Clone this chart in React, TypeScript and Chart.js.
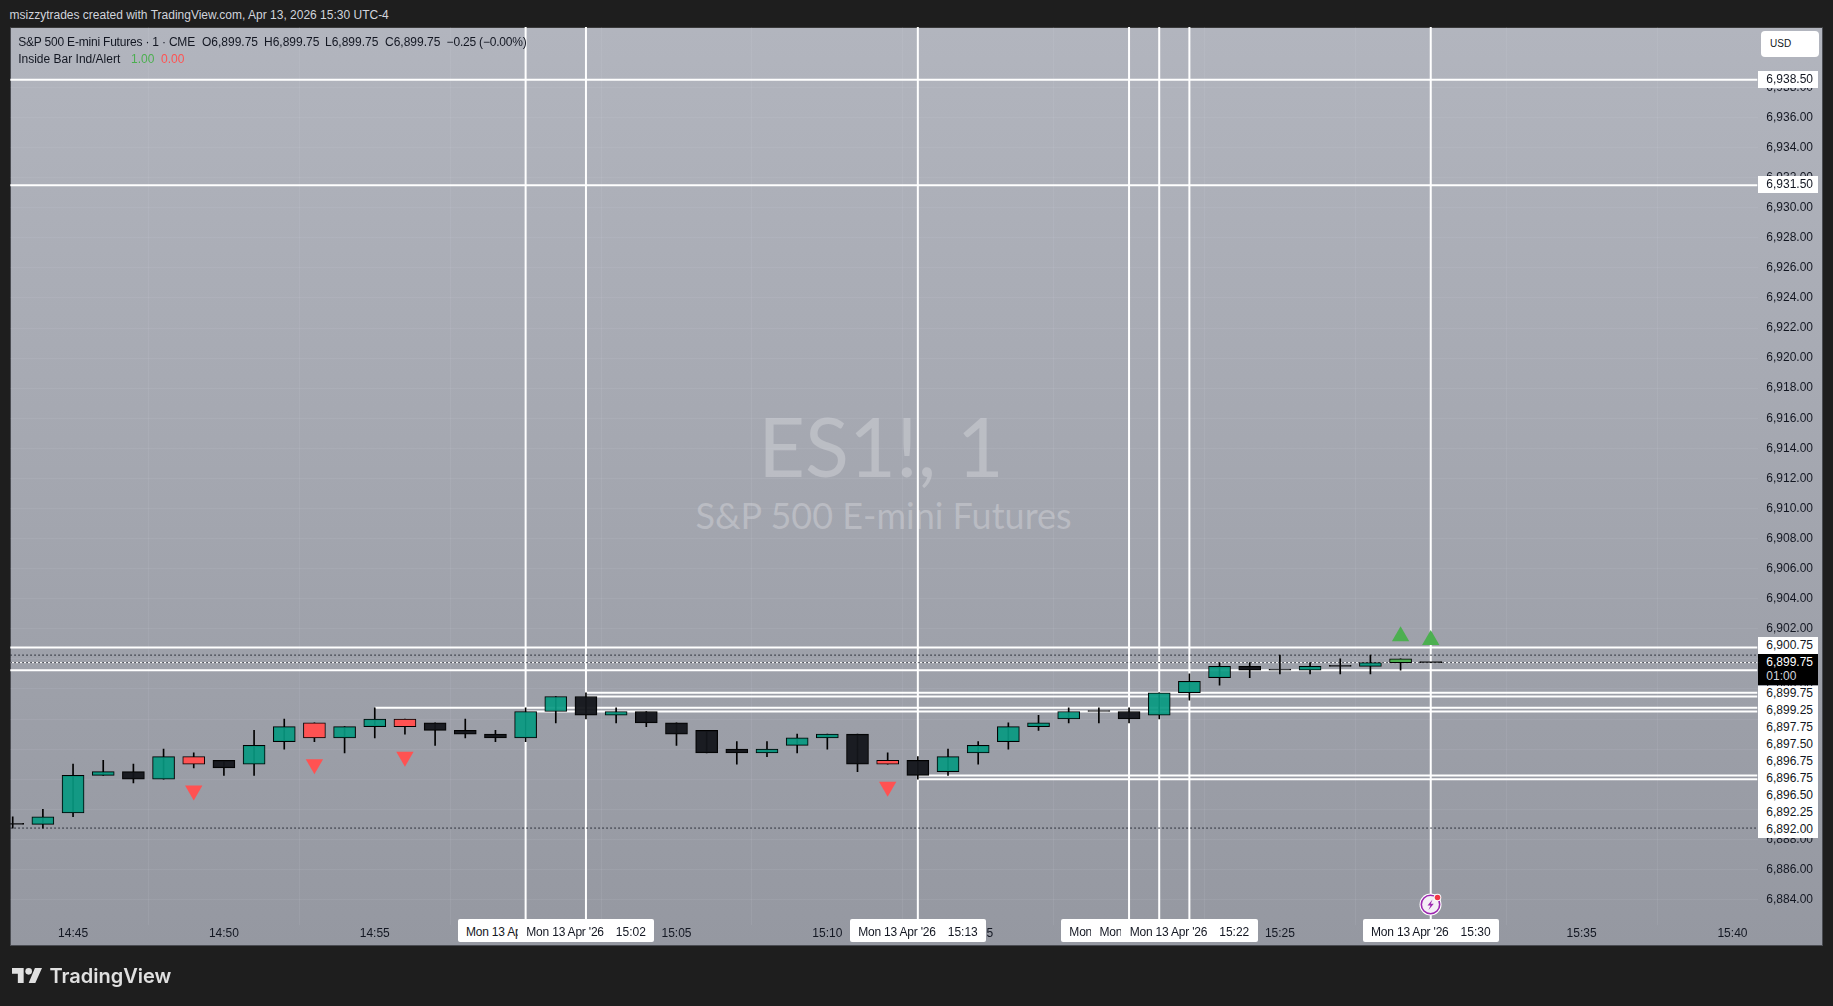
import React, { useEffect, useRef } from "react";
import { Chart, registerables } from "chart.js";

Chart.register(...registerables);

// ---- data ----
const times = ["14:43","14:44","14:45","14:46","14:47","14:48","14:49","14:50","14:51","14:52","14:53","14:54","14:55","14:56","14:57","14:58","14:59","15:00","15:01","15:02","15:03","15:04","15:05","15:06","15:07","15:08","15:09","15:10","15:11","15:12","15:13","15:14","15:15","15:16","15:17","15:18","15:19","15:20","15:21","15:22","15:23","15:24","15:25","15:26","15:27","15:28","15:29","15:30"];
const opens = [6889,6889,6889.75,6892.25,6892.5,6892,6893.5,6893.25,6893,6894.5,6895.75,6894.75,6895.5,6896,6895.75,6895.25,6895,6894.75,6896.5,6897.5,6896.25,6896.5,6895.75,6895.25,6894,6893.75,6894.25,6894.75,6895,6893.25,6893.25,6892.5,6893.75,6894.5,6895.5,6896,6896.5,6896.5,6896.25,6897.75,6898.75,6899.5,6899.25,6899.25,6899.5,6899.5,6899.75,6899.75];
const highs = [6889.5,6890,6893,6893.25,6893,6894,6893.75,6893.25,6895.25,6896,6895.75,6895.5,6896.75,6896,6895.75,6896,6895.25,6896.75,6897.5,6897.75,6896.75,6896.5,6895.75,6895.25,6894.5,6894.5,6895,6895,6895,6893.75,6893.5,6894,6894.5,6895.75,6896.25,6896.75,6896.75,6896.75,6897.75,6899,6899.75,6899.75,6900.25,6899.75,6900,6900.25,6900,6899.75];
const lows = [6888.75,6888.75,6889.5,6892.25,6891.75,6892,6892.75,6892.25,6892.25,6894,6894.5,6893.75,6894.75,6895,6894.25,6894.75,6894.5,6894.5,6895.75,6896,6895.75,6895.5,6894.25,6893.75,6893,6893.5,6893.75,6894,6892.5,6893,6892,6892.25,6893,6894,6895.25,6895.75,6895.75,6895.75,6896,6897.25,6898.25,6898.75,6899,6899,6899,6899,6899.25,6899.75];
const closes = [6889,6889.5,6892.25,6892.5,6892,6893.5,6893,6892.75,6894.25,6895.5,6894.75,6895.5,6896,6895.5,6895.25,6895,6894.75,6896.5,6897.5,6896.25,6896.5,6895.75,6895,6893.75,6893.75,6894,6894.75,6895,6893,6893,6892.25,6893.5,6894.25,6895.5,6895.75,6896.5,6896.5,6896,6897.75,6898.5,6899.5,6899.25,6899.25,6899.5,6899.5,6899.75,6900,6899.75];
const kinds = ["d","u","u","u","d","u","r","d","u","u","r","u","u","r","d","d","d","u","u","d","u","d","d","d","d","u","u","u","d","r","d","u","u","u","u","u","d","d","u","u","u","d","d","u","d","u","g","d"];

const sellTimes = ["14:49","14:53","14:56","15:12"];
const sellPrices = [6891.25,6893,6893.5,6891.5];
const buyTimes = ["15:29","15:30"];
const buyPrices = [6901.5,6901.25];

const verticalTimes = ["15:00","15:02","15:13","15:20","15:21","15:22","15:30"];
const rayPrices = [6938.5,6931.5,6900.75,6899.75,6899.25,6897.75,6897.5,6896.75,6896.5,6892.25,6892];
const rayStarts = ["14:42","14:42","14:42","14:42","14:42","15:02","15:02","14:55","15:00","15:13","15:13"];
const dottedPrices = [6900.25,6899.75,6888.75];

const priceTicks = [6884,6886,6888,6890,6892,6894,6896,6898,6900,6902,6904,6906,6908,6910,6912,6914,6916,6918,6920,6922,6924,6926,6928,6930,6932,6934,6936,6938];
const timeTicks = ["14:45","14:50","14:55","15:00","15:05","15:10","15:15","15:20","15:25","15:30","15:35","15:40"];

const priceTags = ["6,899.75","6,899.25","6,897.75","6,897.50","6,896.75","6,896.75","6,896.50","6,892.25","6,892.00"];
const crosshairDates = ["15:00","15:02","15:13","15:20","15:21","15:22","15:30"];

// ---- presentation ----
const yMin = 6882.305, yMax = 6942.015;
const xMin = 882.92, xMax = 940.83;
const FONT = '"Liberation Sans", Arial, sans-serif';
const INK = "#131722";

const minute = (t: string) => { const [h, m] = t.split(":").map(Number); return h * 60 + m; };
const bodyColor: Record<string, string> = {
  u: "rgba(8,153,129,0.92)",
  d: "rgba(19,21,26,0.95)",
  r: "#ff5252",
  g: "#4caf50",
};

const abs = (o: React.CSSProperties): React.CSSProperties => ({ position: "absolute", whiteSpace: "pre", ...o });
const timeX = (t: string) => 73.1 + (minute(t) - 885) * 30.17;

export default function App() {
  const ref = useRef<HTMLCanvasElement>(null);
  useEffect(() => {
    const wicks = times.map((t, i) => ({ x: minute(t), y: [lows[i], highs[i]] }));
    const bodies = times.map((t, i) => ({ x: minute(t), y: [opens[i], closes[i]] }));
    const line = (data: any[], extra: any) => ({
      type: "line", data, pointRadius: 0, borderColor: "#ffffff", borderWidth: 2, order: 5, tension: 0, ...extra,
    });
    const datasets: any[] = [
      ...verticalTimes.map((t) => line([{ x: minute(t), y: yMin }, { x: minute(t), y: yMax }], {})),
      ...rayPrices.map((p, i) => line([{ x: minute(rayStarts[i]), y: p }, { x: xMax, y: p }], {
        borderWidth: rayPrices[i] === 6899.75 && rayStarts[i] === "14:42" ? 1 : 2,
      })),
      ...dottedPrices.map((p) => line([{ x: xMin, y: p }, { x: xMax, y: p }], {
        borderColor: "#131722", borderWidth: 1, borderDash: [1.5, 2.5], order: 4,
      })),
      {
        type: "bar", data: wicks, grouped: false, barThickness: 1, backgroundColor: "#000000", order: 3,
      },
      {
        type: "bar", data: bodies, grouped: false, barThickness: 22, minBarLength: 1,
        backgroundColor: kinds.map((k) => bodyColor[k]), borderColor: "#000000", borderWidth: 1, borderSkipped: false, order: 2,
      },
      {
        type: "scatter", data: sellTimes.map((t, i) => ({ x: minute(t), y: sellPrices[i] })),
        pointStyle: "triangle", pointRotation: 180, pointRadius: 10, pointBorderWidth: 0,
        pointBackgroundColor: "#ff5252", order: 1,
      },
      {
        type: "scatter", data: buyTimes.map((t, i) => ({ x: minute(t), y: buyPrices[i] })),
        pointStyle: "triangle", pointRadius: 10, pointBorderWidth: 0,
        pointBackgroundColor: "#4caf50", order: 1,
      },
    ];
    const chart = new Chart(ref.current!, {
      type: "bar",
      data: { datasets },
      options: {
        animation: false,
        responsive: false,
        devicePixelRatio: 1,
        layout: { padding: { left: 10.3, top: 27, right: 10, bottom: 60 } },
        plugins: { legend: { display: false }, tooltip: { enabled: false } },
        scales: {
          x: {
            type: "linear", min: xMin, max: xMax, offset: false,
            afterBuildTicks: (s: any) => { s.ticks = timeTicks.map((t) => ({ value: minute(t) })); },
            afterFit: (s: any) => { s.height = 21; },
            ticks: {
              autoSkip: false, maxRotation: 0, padding: 1.5, color: INK,
              font: { family: FONT, size: 12 },
              callback: (v: any) => timeTicks.find((t) => minute(t) === v) ?? "",
            },
            grid: { color: "rgba(240,243,250,0.07)", drawTicks: false },
            border: { display: false },
          },
          y: {
            position: "right", min: yMin, max: yMax,
            afterBuildTicks: (s: any) => { s.ticks = priceTicks.map((value) => ({ value })); },
            afterFit: (s: any) => { s.width = 65.5; },
            ticks: {
              autoSkip: false, padding: 8.8, color: INK,
              font: { family: FONT, size: 12 },
              callback: (v: any) => Number(v).toLocaleString("en-US", { minimumFractionDigits: 2, maximumFractionDigits: 2 }),
            },
            grid: { color: "rgba(240,243,250,0.07)", drawTicks: false },
            border: { display: false },
          },
        },
      } as any,
    } as any);
    return () => chart.destroy();
  }, []);

  const labelFont: React.CSSProperties = { fontFamily: FONT, fontSize: 12, lineHeight: "14px" };
  const legendTokens: [string, number, number][] = [
    ["S&P 500 E-mini Futures · 1 · CME", 18.2, -0.2], ["O6,899.75", 202, 0], ["H6,899.75", 264, 0],
    ["L6,899.75", 325, 0], ["C6,899.75", 385, 0], ["−0.25 (−0.00%)", 446.6, -0.2],
  ];

  return (
    <div style={{ position: "absolute", left: 0, top: 0, width: 1833, height: 1006, background: "#1e1e1e", overflow: "hidden" }}>
      <div style={abs({ left: 9.5, top: 8, color: "#d1d4dc", ...labelFont })}>
        msizzytrades created with TradingView.com, Apr 13, 2026 15:30 UTC-4
      </div>
      <div style={abs({
        left: 10, top: 27, width: 1813, height: 919, boxSizing: "border-box", border: "1px solid #4a4c52", borderTopColor: "#3a3a3a",
        background: "linear-gradient(180deg,#b2b5be 0%,#9598a1 100%)",
      })} />
      <div style={abs({ left: 0, width: 1762, textAlign: "center", top: 398, color: "rgba(255,255,255,0.25)", fontFamily: "Lato, sans-serif", fontSize: 81, lineHeight: "96px" })}>ES1!, 1</div>
      <div style={abs({ left: 0, width: 1767, textAlign: "center", top: 492, color: "rgba(255,255,255,0.25)", fontFamily: "Lato, sans-serif", fontSize: 36, lineHeight: "46px" })}>S&amp;P 500 E-mini Futures</div>
      <canvas ref={ref} width={1833} height={1006} style={{ position: "absolute", left: 0, top: 0 }} />

      {legendTokens.map(([s, x, ls]) => (
        <div key={s} style={abs({ left: x, top: 35, color: INK, ...labelFont, letterSpacing: ls })}>{s}</div>
      ))}
      <div style={abs({ left: 18.2, top: 52, color: INK, ...labelFont })}>Inside Bar Ind/Alert</div>
      <div style={abs({ left: 131, top: 52, color: "#4caf50", ...labelFont })}>1.00</div>
      <div style={abs({ left: 161, top: 52, color: "#ff5252", ...labelFont })}>0.00</div>

      <div style={abs({ left: 1761, top: 31, width: 58, height: 26, boxSizing: "border-box", background: "#fff", borderRadius: 4, paddingLeft: 9, color: INK, ...labelFont, fontSize: 10, lineHeight: "26px" })}>USD</div>
      {[["6,938.50", 70.5], ["6,931.50", 175.5], ["6,900.75", 637]].map(([s, y]) => (
        <div key={s as string} style={abs({ left: 1758, top: y as number, width: 60, height: 17, background: "#fff", color: INK, paddingLeft: 8.3, boxSizing: "border-box", ...labelFont, lineHeight: "17px" })}>{s}</div>
      ))}
      <div style={abs({ left: 1758, top: 654, width: 60, height: 31, background: "#000", color: "#fff", paddingLeft: 8.3, paddingTop: 1, boxSizing: "border-box", ...labelFont, lineHeight: "14px" })}>{"6,899.75\n"}<span style={{ color: "#d1d4dc" }}>01:00</span></div>
      <div style={abs({ left: 1758, top: 685.5, width: 60, height: 152, background: "#fff" })} />
      {priceTags.map((s, i) => (
        <div key={i} style={abs({ left: 1766.3, top: 685 + i * 17, height: 17, color: INK, ...labelFont, lineHeight: "17px" })}>{s}</div>
      ))}

      {crosshairDates.map((t) => (
        <div key={t} style={abs({
          left: timeX(t) - 68, top: 918.7, width: 136.3, height: 23.5, background: "#fff", borderRadius: 2, color: INK, ...labelFont, lineHeight: "27px", paddingLeft: 8.3, boxSizing: "border-box",
        })}>
          <span style={{ letterSpacing: -0.2 }}>{"Mon 13 Apr '26"}</span><span style={{ marginLeft: 12 }}>{t}</span>
        </div>
      ))}

      <svg style={{ position: "absolute", left: 1418.5, top: 893 }} width="24" height="24" viewBox="0 0 24 24">
        <circle cx="11.5" cy="11.5" r="11" fill="#fff" />
        <circle cx="11.5" cy="11.5" r="9.2" fill="#f4eff6" stroke="#9c27b0" strokeWidth="1.6" />
        <path d="M13.5 6.5 L8.5 12.5 L11.5 12.5 L9.5 17 L14.8 10.8 L11.8 10.8 Z" fill="#9c27b0" />
        <circle cx="18.5" cy="4.5" r="3.8" fill="#fff" />
        <circle cx="18.5" cy="4.5" r="2.8" fill="#f23645" />
      </svg>

      <svg style={{ position: "absolute", left: 12, top: 968 }} width="30" height="15" viewBox="0 0 36 18">
        <path d="M14 18H7V7H0V0h14zM28 18h-8l7.5-18h8.5z" fill="#e0e0e0" />
        <circle cx="20" cy="4" r="4" fill="#e0e0e0" />
      </svg>
      <div style={abs({ left: 49.5, top: 963, color: "#e0e0e0", fontFamily: '"Inter", "Noto Sans", sans-serif', fontWeight: 600, fontSize: 20, lineHeight: "26px" })}>TradingView</div>
    </div>
  );
}
